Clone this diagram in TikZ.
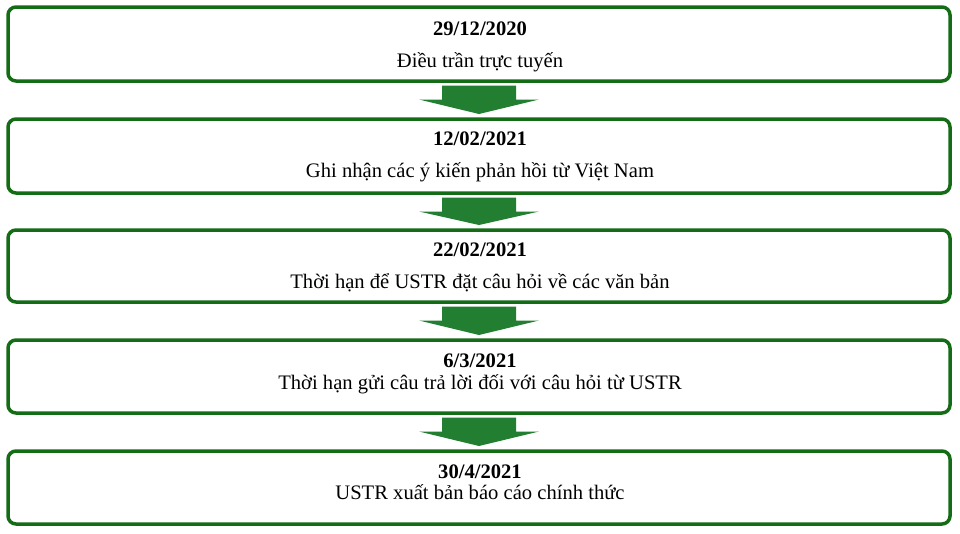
\documentclass[tikz,border=0pt]{standalone}
\usepackage{fontspec}
\setmainfont{Liberation Serif}
\usetikzlibrary{calc}
\definecolor{boxgreen}{RGB}{20,108,22}
\definecolor{arrowgreen}{RGB}{34,126,48}
\tikzset{
  stagebox/.style={draw=boxgreen, line width=3.5pt, rounded corners=8pt, fill=white,
    minimum width=942pt, inner sep=0pt, outer sep=0pt},
  datetext/.style={anchor=base, font=\fontsize{20.6}{24}\selectfont\bfseries, inner sep=0pt},
  desctext/.style={anchor=base, font=\fontsize{20.6}{24}\selectfont, inner sep=0pt},
  downarrow/.style={fill=arrowgreen, draw=none}
}
\newcommand{\stagearrow}[2]{%
  \fill[downarrow]
    ($(#1.south)+(-37,4.5)$) -- ($(#1.south)+(37,4.5)$) --
    ($(#1.south)+(37,18.5)$) -- ($(#1.south)+(60,18.5)$) --
    ($(#2.north)+(0,-5)$) --
    ($(#1.south)+(-60,18.5)$) -- ($(#1.south)+(-37,18.5)$) -- cycle;}
\begin{document}
\begin{tikzpicture}[x=1pt,y=-1pt]
\useasboundingbox (0,0) rectangle (960,533);
\node[stagebox, minimum height=74pt] (b1) at (479,44) {};
\node[stagebox, minimum height=74pt] (b2) at (479,156) {};
\node[stagebox, minimum height=72pt] (b3) at (479,266) {};
\node[stagebox, minimum height=73pt] (b4) at (479,376.5) {};
\node[stagebox, minimum height=73pt] (b5) at (479,487.5) {};

\node[datetext] (d1) at (480,35) {29/12/2020};
\node[desctext] (t1) at (480,67) {Điều trần trực tuyến};
\node[datetext] (d2) at (480,145) {12/02/2021};
\node[desctext] (t2) at (480,177) {Ghi nhận các ý kiến phản hồi từ Việt Nam};
\node[datetext] (d3) at (480,256) {22/02/2021};
\node[desctext] (t3) at (480,288) {Thời hạn để USTR đặt câu hỏi về các văn bản};
\node[datetext] (d4) at (480,367) {6/3/2021};
\node[desctext] (t4) at (480,389) {Thời hạn gửi câu trả lời đối với câu hỏi từ USTR};
\node[datetext] (d5) at (480,478) {30/4/2021};
\node[desctext] (t5) at (480,499) {USTR xuất bản báo cáo chính thức};

\stagearrow{b1}{b2}
\stagearrow{b2}{b3}
\stagearrow{b3}{b4}
\stagearrow{b4}{b5}
\end{tikzpicture}
\end{document}
